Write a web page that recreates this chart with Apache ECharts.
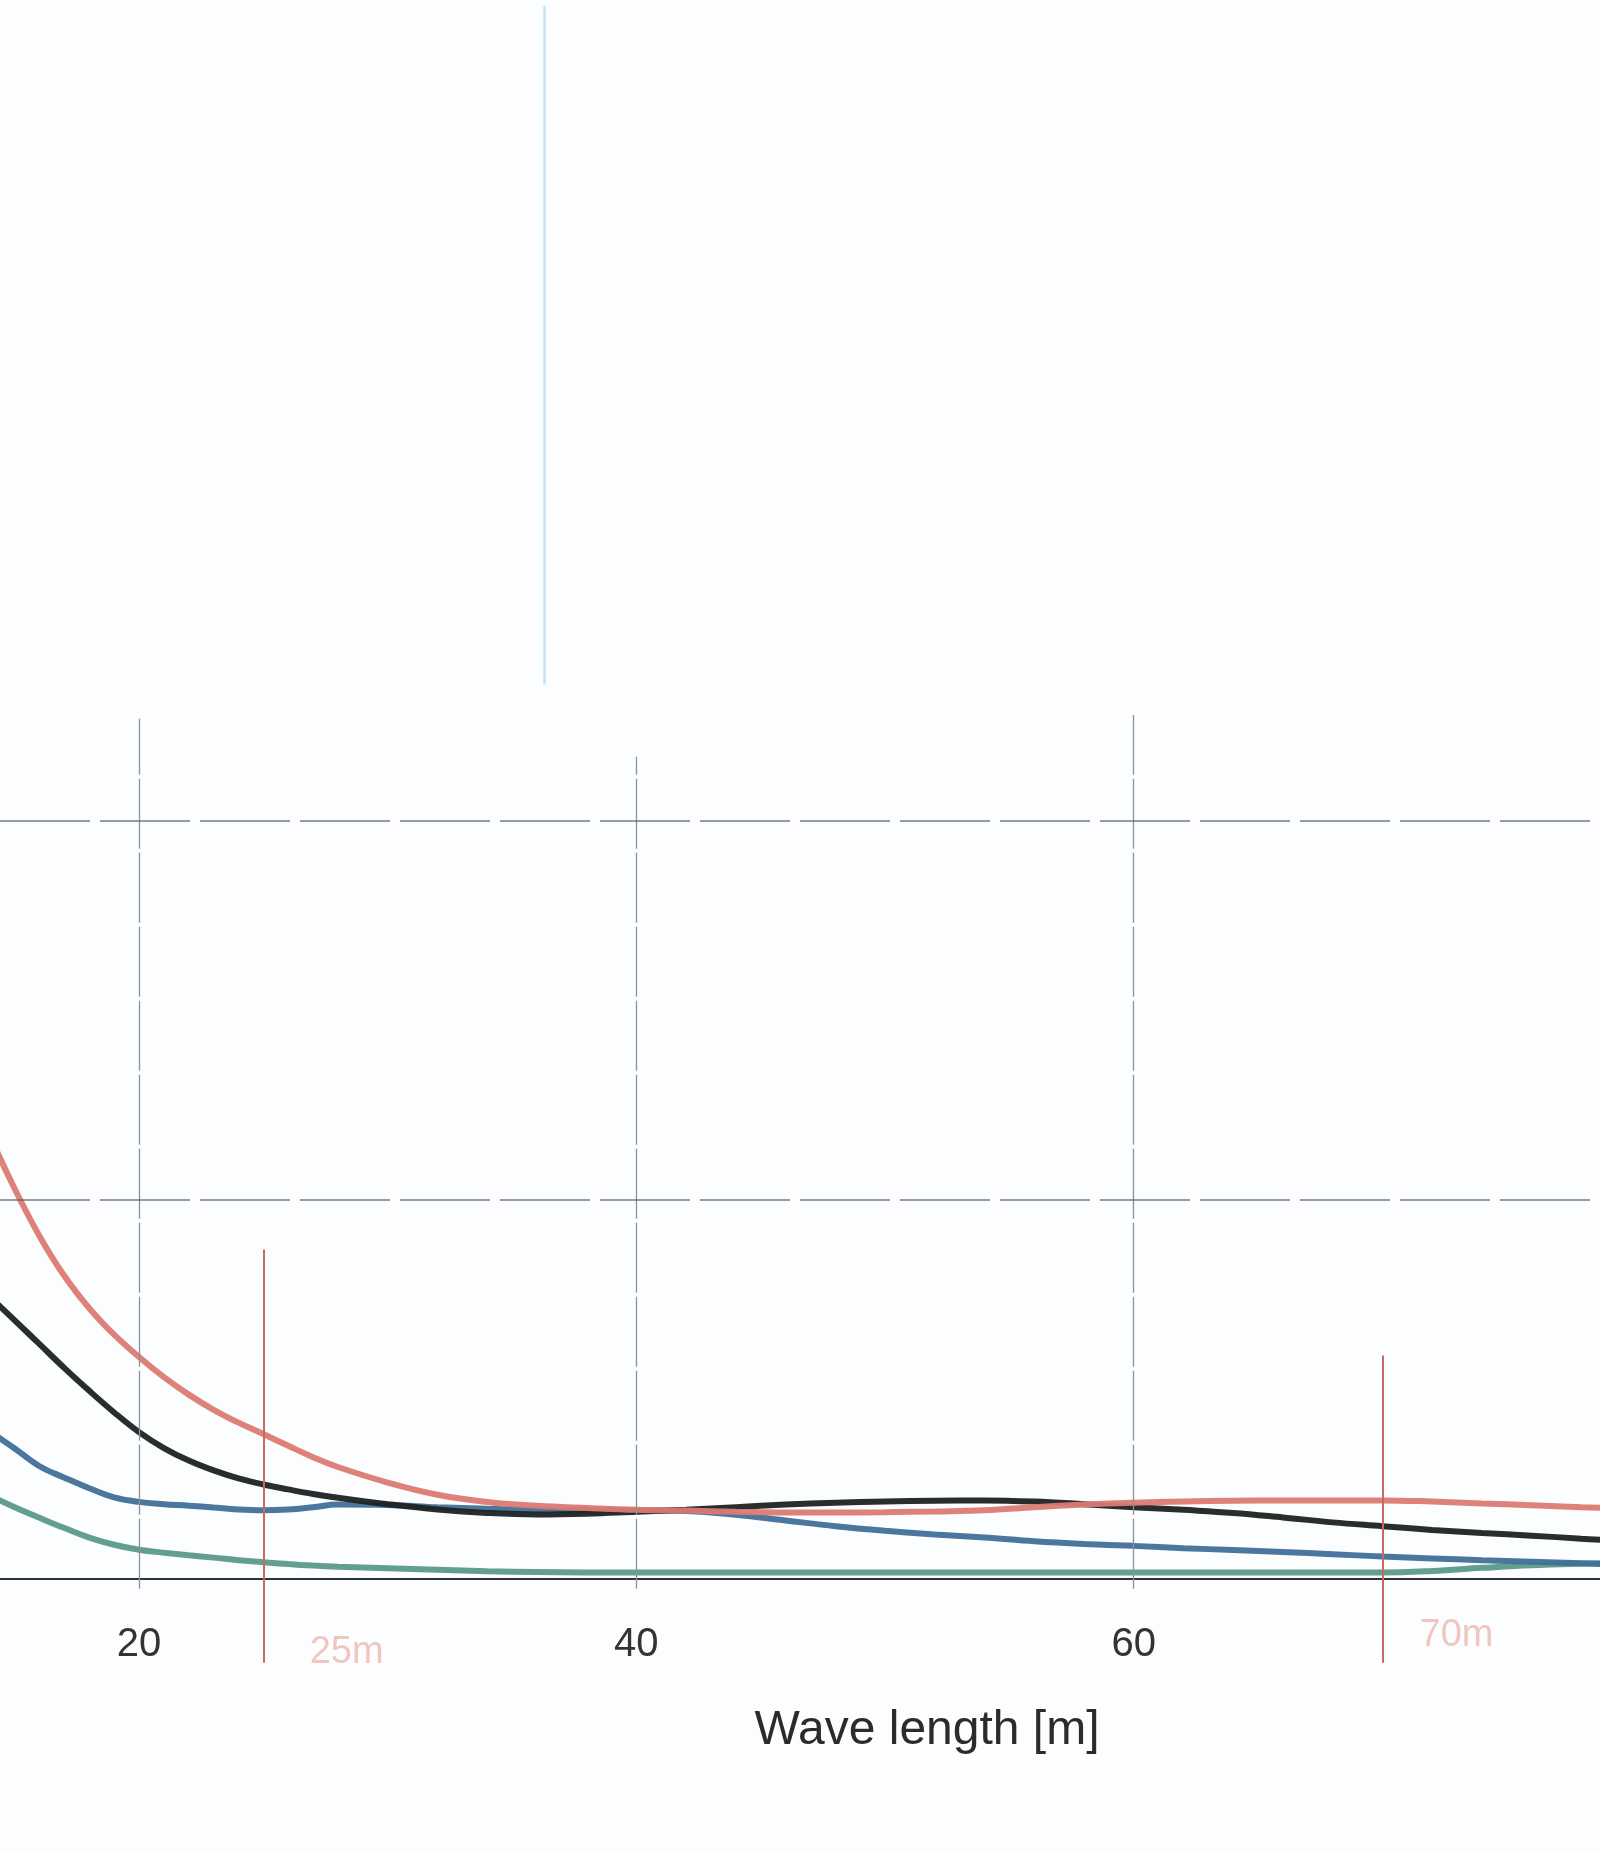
<!DOCTYPE html>
<html>
<head>
<meta charset="utf-8">
<title>Wave length</title>
<script src="https://cdn.jsdelivr.net/npm/echarts@6.0.0/dist/echarts.min.js"></script>
<style>
html, body { margin: 0; padding: 0; background: #fcfdfe; }
#main { width: 1600px; height: 1851px; }
</style>
</head>
<body>
<div id="main"></div>
<script>
// wave length samples [m]
var waveLen = [14, 15, 16, 17, 18, 19, 20, 21, 22, 23, 24, 25, 26, 27, 28,
    30, 32, 34, 36, 38, 40, 42, 44, 46, 48, 50, 52, 54, 56, 58, 60,
    62, 64, 66, 68, 70, 72, 74, 76, 78, 79];

var redCurve = [1.17, 1.03, 0.905, 0.80, 0.715, 0.645, 0.586, 0.533, 0.487, 0.447, 0.413, 0.383, 0.352, 0.322, 0.296,
    0.255, 0.223, 0.204, 0.194, 0.188, 0.183, 0.181, 0.178, 0.176, 0.176, 0.177, 0.179, 0.182, 0.19, 0.197, 0.202,
    0.205, 0.207, 0.208, 0.208, 0.208, 0.205, 0.2, 0.195, 0.19, 0.188];

var blackCurve = [0.745, 0.683, 0.62, 0.557, 0.497, 0.44, 0.388, 0.346, 0.313, 0.287, 0.266, 0.25, 0.237, 0.225, 0.215,
    0.198, 0.184, 0.175, 0.171, 0.173, 0.178, 0.183, 0.19, 0.197, 0.202, 0.205, 0.207, 0.208, 0.205, 0.198, 0.19,
    0.183, 0.175, 0.163, 0.15, 0.14, 0.13, 0.122, 0.115, 0.107, 0.103];

var blueCurve = [0.39, 0.345, 0.298, 0.268, 0.24, 0.216, 0.204, 0.198, 0.194, 0.189, 0.184, 0.182, 0.184, 0.19, 0.197,
    0.196, 0.19, 0.186, 0.183, 0.182, 0.182, 0.18, 0.17, 0.155, 0.14, 0.128, 0.118, 0.11, 0.1, 0.093, 0.088,
    0.082, 0.077, 0.072, 0.066, 0.06, 0.055, 0.05, 0.046, 0.042, 0.04];

var greenCurve = [0.22, 0.19, 0.162, 0.135, 0.11, 0.091, 0.078, 0.07, 0.063, 0.057, 0.05, 0.045, 0.04, 0.036, 0.033,
    0.029, 0.025, 0.021, 0.019, 0.018, 0.018, 0.018, 0.018, 0.018, 0.018, 0.018, 0.018, 0.018, 0.018, 0.018, 0.018,
    0.018, 0.018, 0.018, 0.018, 0.018, 0.022, 0.03, 0.037, 0.041, 0.042];

var xTicks = [20, 40, 60];
var yGrid = [1, 2];
var markerAt = [25, 70];
var markerText = ['25m', '70m'];

function pairs(ys) {
    return waveLen.map(function (x, i) { return [x, ys[i]]; });
}

function curve(name, ys, color) {
    return {
        name: name,
        type: 'line',
        data: pairs(ys),
        smooth: 0.4,
        showSymbol: false,
        symbol: 'none',
        lineStyle: { color: color, width: 6, opacity: 0.95 },
        itemStyle: { color: color },
        silent: true
    };
}

var myChart = echarts.init(document.getElementById('main'));

// grid lines, all in data space
var gridTops = [2.27, 2.17, 2.28];
var gridLines = [];
xTicks.forEach(function (v, i) {
    gridLines.push([
        { coord: [v, -0.025], lineStyle: { color: '#8d9198', width: 1.3, type: [70, 4] } },
        { coord: [v, gridTops[i]] }
    ]);
});
yGrid.forEach(function (v) {
    gridLines.push({ yAxis: v, lineStyle: { color: '#60646a', width: 1.7, type: [90, 10], opacity: 0.85 } });
});
// faint blue scan line at the top
gridLines.push([
    { coord: [36.3, 2.36], lineStyle: { color: '#b6e0f5', width: 2.5, type: 'solid', opacity: 0.85 } },
    { coord: [36.3, 4.15] }
]);

// red markers at 25 m and 70 m
var markerTops = [0.87, 0.59];
var markerLines = markerAt.map(function (v, i) {
    return [
        { coord: [v, -0.22] },
        { coord: [v, markerTops[i]] }
    ];
});
var labelCoords = [[28.35, -0.193], [72.98, -0.148]];
var markerLabels = markerText.map(function (t, i) {
    return {
        coord: labelCoords[i],
        value: t,
        label: { formatter: t }
    };
});

myChart.setOption({
    backgroundColor: '#fcfdfe',
    animation: false,
    grid: {
        left: 0,
        right: 0,
        top: 0,
        bottom: 177,
        containLabel: false,
        outerBoundsMode: 'none'
    },
    xAxis: {
        type: 'value',
        min: 14.41,
        max: 78.75,
        name: 'Wave length [m]',
        nameLocation: 'middle',
        nameGap: 33,
        nameTextStyle: {
            color: '#2b2b2b',
            fontSize: 48,
            fontFamily: 'Liberation Sans',
            padding: [0, 0, 0, 254]
        },
        axisLine: { onZero: true, lineStyle: { color: '#2f3236', width: 2 } },
        axisTick: { show: false },
        axisLabel: {
            customValues: xTicks,
            margin: -49,
            color: '#333',
            fontSize: 40,
            fontFamily: 'Liberation Sans'
        },
        splitLine: { show: false }
    },
    yAxis: {
        type: 'value',
        min: -0.25,
        max: 4.166,
        show: false,
        splitLine: { show: false }
    },
    series: [
        curve('green', greenCurve, '#5b9a88'),
        curve('blue', blueCurve, '#41709a'),
        curve('black', blackCurve, '#1f2222'),
        curve('red', redCurve, '#db7a72'),
        {
            name: 'guides',
            type: 'line',
            data: [],
            silent: true,
            z: 1,
            markLine: {
                silent: true,
                symbol: ['none', 'none'],
                label: { show: false },
                data: gridLines
            }
        },
        {
            name: 'markers',
            type: 'line',
            data: [],
            silent: true,
            z: 5,
            markLine: {
                silent: true,
                symbol: ['none', 'none'],
                label: { show: false },
                lineStyle: { color: '#c76a62', width: 2, type: 'solid' },
                data: markerLines
            },
            markPoint: {
                silent: true,
                symbol: 'circle',
                symbolSize: 0,
                label: {
                    show: true,
                    position: 'inside',
                    color: '#f1c6bf',
                    fontSize: 38,
                    fontFamily: 'Liberation Sans'
                },
                data: markerLabels
            }
        }
    ]
});
</script>
</body>
</html>
